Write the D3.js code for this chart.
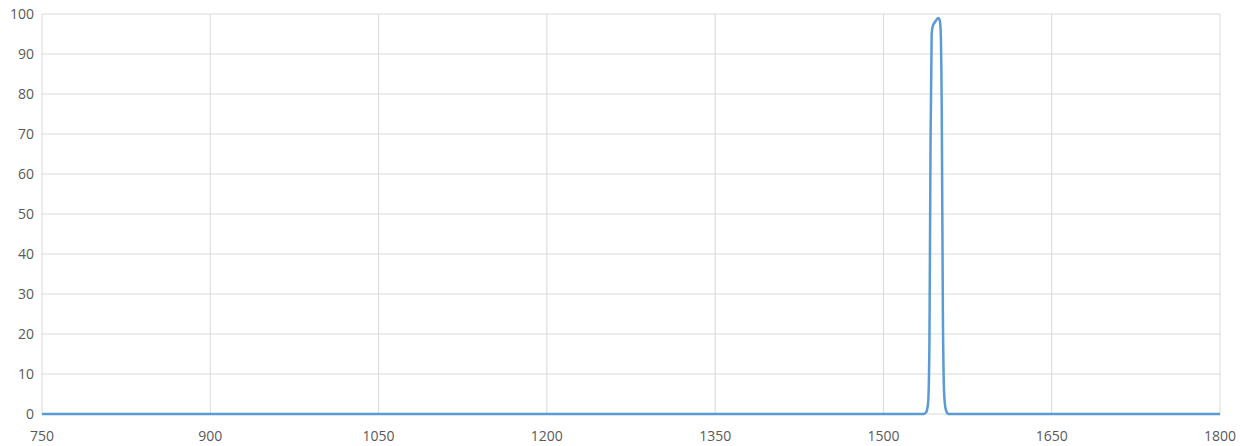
<!DOCTYPE html>
<html>
<head>
<meta charset="utf-8">
<script src="https://cdn.jsdelivr.net/npm/d3@7"></script>
<style>
  body { margin: 0; background: #fff; }
  svg text { font-family: "Open Sans", "Liberation Sans", sans-serif; font-size: 14px; fill: #595959; }
</style>
</head>
<body>
<div id="container"></div>
<script>
// wavelength (nm) and transmission (%)
var wavelengths = [750, 800, 850, 900, 1000, 1100, 1200, 1300, 1400, 1500, 1530, 1536, 1538, 1539, 1540, 1541, 1542, 1543, 1544, 1546, 1548, 1549, 1550, 1551, 1552, 1553, 1554, 1555, 1556, 1557, 1558, 1570, 1600, 1700, 1800];
var transmission = [0, 0, 0, 0, 0, 0, 0, 0, 0, 0, 0, 0, 0.4, 1.2, 3.5, 18, 68, 95, 97, 98, 98.8, 99, 98.6, 96, 75, 25, 6, 2, 0.8, 0.2, 0, 0, 0, 0, 0];
var xTicks = [750, 900, 1050, 1200, 1350, 1500, 1650, 1800];
var yTicks = [0, 10, 20, 30, 40, 50, 60, 70, 80, 90, 100];

var w = 1240, h = 446,
	mLeft = 42, mRight = 1220, mTop = 14, mBottom = 414; //plot area edges

var svg = d3.select("div#container").append("svg")
	.attr("width", w)
	.attr("height", h);

var x = d3.scaleLinear().domain([750, 1800]).range([mLeft, mRight]);
var y = d3.scaleLinear().domain([0, 100]).range([mBottom, mTop]);

// horizontal gridlines
svg.append("g").selectAll("line")
	.data(yTicks)
  .enter().append("line")
	.attr("x1", mLeft).attr("x2", mRight)
	.attr("y1", function(d) { return y(d); })
	.attr("y2", function(d) { return y(d); })
	.attr("stroke", "#d9d9d9").attr("stroke-width", 1);

// vertical gridlines
svg.append("g").selectAll("line")
	.data(xTicks)
  .enter().append("line")
	.attr("x1", function(d) { return x(d); })
	.attr("x2", function(d) { return x(d); })
	.attr("y1", mTop).attr("y2", mBottom)
	.attr("stroke", "#d9d9d9").attr("stroke-width", 1);

// y labels
svg.append("g").selectAll("text")
	.data(yTicks)
  .enter().append("text")
	.attr("x", mLeft - 8)
	.attr("y", function(d) { return y(d); })
	.attr("dy", "0.35em")
	.attr("text-anchor", "end")
	.text(function(d) { return d; });

// x labels
svg.append("g").selectAll("text")
	.data(xTicks)
  .enter().append("text")
	.attr("x", function(d) { return x(d); })
	.attr("y", mBottom + 22)
	.attr("dy", "0.35em")
	.attr("text-anchor", "middle")
	.text(function(d) { return d; });

var data = wavelengths.map(function(d, i) { return { w: d, t: transmission[i] }; });

var line = d3.line()
	.x(function(d) { return x(d.w); })
	.y(function(d) { return y(d.t); })
	.curve(d3.curveMonotoneX);

svg.append("path")
	.datum(data)
	.attr("d", line)
	.attr("fill", "none")
	.attr("stroke", "#5b9bd5")
	.attr("stroke-width", 2.5)
	.attr("stroke-linejoin", "round");
</script>
</body>
</html>
